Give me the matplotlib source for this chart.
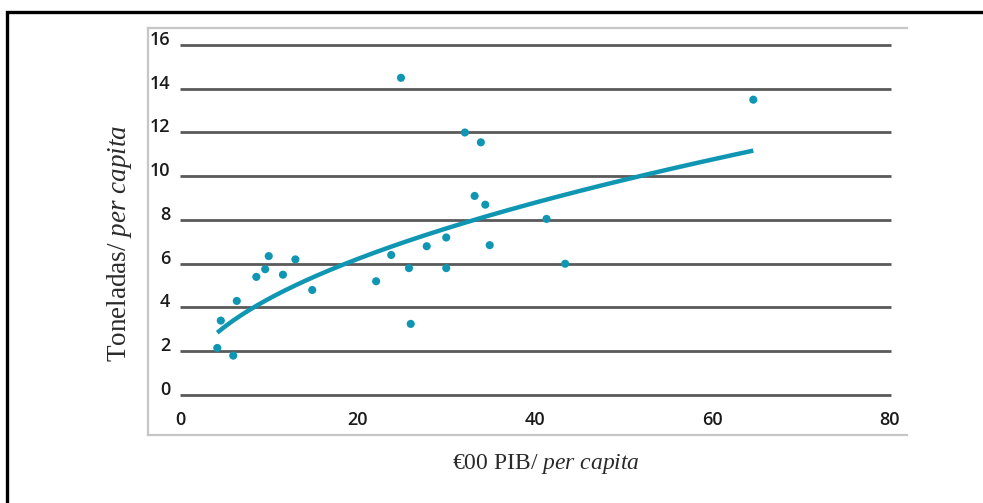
import matplotlib
matplotlib.use('Agg')
import matplotlib.pyplot as plt
import numpy as np
from matplotlib.lines import Line2D

plt.rcParams['mathtext.fontset'] = 'custom'
plt.rcParams['mathtext.rm'] = 'Liberation Serif'
plt.rcParams['mathtext.it'] = 'Liberation Serif:italic'

# GDP per capita (x) vs tonnes per capita (y)
gdp = [4.2, 4.6, 6.0, 6.4, 8.6, 9.6, 10.0, 11.6, 13.0, 14.9, 22.1, 23.8, 24.9,
       25.8, 26.0, 27.8, 30.0, 30.0, 32.1, 33.2, 33.9, 34.4, 34.9, 41.3,
       43.4, 64.6]
tonnes = [2.15, 3.4, 1.8, 4.3, 5.4, 5.75, 6.35, 5.5, 6.2, 4.8, 5.2, 6.4, 14.5,
          5.8, 3.25, 6.8, 7.2, 5.8, 12.0, 9.1, 11.55, 8.7, 6.85, 8.05,
          6.0, 13.5]

# power trend line y = a * x^b
trend_a = 1.39
trend_b = 0.5
trend_range = (4.2, 64.6)

y_ticks = [0, 2, 4, 6, 8, 10, 12, 14, 16]
x_ticks = [0, 20, 40, 60, 80]

TEAL = '#0f96b3'
W, H = 983, 503


def main():
    fig = plt.figure(figsize=(W / 100, H / 100), dpi=100)
    # axes box in pixels: left 148, right 907, top 28, bottom 435
    ax = fig.add_axes([148 / W, 1 - 435 / H, (907 - 148) / W, (435 - 28) / H])
    ax.set_xlim(-3.606, 81.92)
    ax.set_ylim(-1.829, 16.777)
    ax.set_xticks([])
    ax.set_yticks([])
    ax.spines['right'].set_visible(False)
    for side in ['left', 'top', 'bottom']:
        ax.spines[side].set_color('#c6c6c6')
        ax.spines[side].set_linewidth(1.6)

    ax.hlines(y_ticks, 0, 80.1, colors='#5a5a5a', linewidth=2.0, zorder=1)

    tick_font = dict(family='Open Sans', fontsize=13, fontweight='semibold',
                     color='#1a1a1a')
    for v in y_ticks:
        ax.text(-1.1, v, str(v), ha='right', va='baseline', **tick_font)
    for v in x_ticks:
        ax.text(v, -1.37, str(v), ha='center', va='baseline', **tick_font)

    xs = np.linspace(trend_range[0], trend_range[1], 200)
    ax.plot(xs, trend_a * xs ** trend_b, color=TEAL, linewidth=3.2,
            solid_capstyle='butt', zorder=3)
    ax.scatter(gdp, tonnes, s=34, color=TEAL, edgecolors='none', zorder=4)

    fig.text(119 / W, 1 - 243 / H, r'Toneladas/ $\mathit{per\ capita}$',
             rotation=90, ha='center', va='center', family='Liberation Serif',
             fontsize=19.5, color='#2a2a2a')
    fig.text(546 / W, 1 - 464 / H, r'€00 PIB/ $\mathit{per\ capita}$',
             ha='center', va='center', family='Liberation Serif',
             fontsize=17, color='#2a2a2a')

    # outer frame (top and left edges only)
    fig.add_artist(Line2D([7 / W, 7 / W, 1.0], [0.0, 1 - 12 / H, 1 - 12 / H],
                          transform=fig.transFigure, color='black',
                          linewidth=2.4, solid_joinstyle='miter'))

    fig.savefig('out.png', dpi=100)
    plt.close(fig)


if __name__ == '__main__':
    main()
